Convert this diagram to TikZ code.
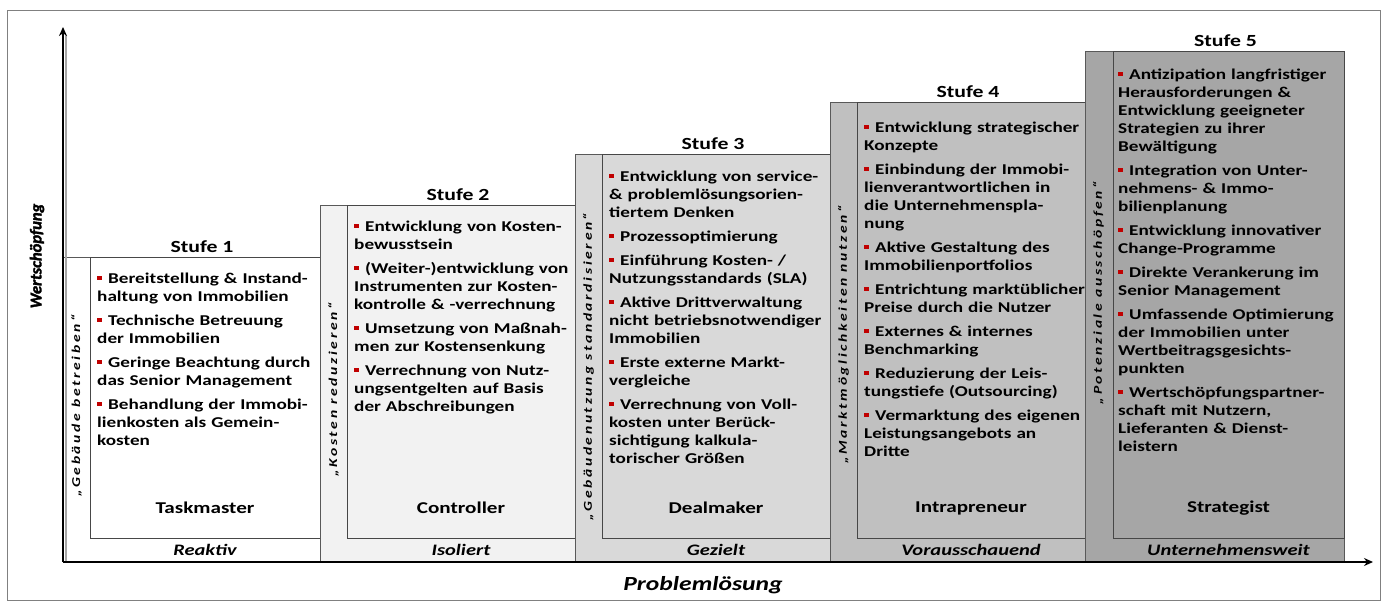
\documentclass[tikz,border=0pt]{standalone}
\usepackage{fontspec}
\setmainfont{Carlito}[FakeStretch=1.28]
\newfontfamily\plainfont{Carlito}[FakeBold=2]
\newfontfamily\quotefont{Carlito}[FakeStretch=1.3, LetterSpace=22]
\usetikzlibrary{arrows.meta,calc}
\definecolor{bred}{HTML}{C00000}
\definecolor{fillA}{HTML}{FFFFFF}
\definecolor{fillB}{HTML}{F2F2F2}
\definecolor{fillC}{HTML}{D9D9D9}
\definecolor{fillD}{HTML}{C0C0C0}
\definecolor{fillE}{HTML}{A6A6A6}
\definecolor{boxline}{HTML}{595959}
\newcommand\itm[1]{\par\noindent\hangindent=11pt\hangafter=1\makebox[11pt][l]{\raisebox{3pt}{\textcolor{bred}{\rule{5pt}{4pt}}}}#1\par\vspace{6pt}}
\newcommand\StageBox[6]{%
 \pgfmathsetmacro\ow{#3-#2}\pgfmathsetmacro\oh{562-#4}%
 \pgfmathsetmacro\iw{#3-#5}\pgfmathsetmacro\ih{538-#4}%
 \node[outerbox, fill=#6, minimum width=\ow pt, minimum height=\oh pt, anchor=north west] (o#1) at (#2,#4) {};
 \node[innerbox, minimum width=\iw pt, minimum height=\ih pt, anchor=north west] (i#1) at (#5,#4) {};
}
\tikzset{
 outerbox/.style={draw=boxline, line width=0.8pt, inner sep=0pt, outer sep=0pt},
 innerbox/.style={draw=boxline!80!black, line width=1pt, inner sep=0pt, outer sep=0pt},
 blist/.style={text width=245pt, align=left, inner sep=0pt, anchor=north west,
   font=\bfseries\fontsize{15}{18}\selectfont},
 ttl/.style={anchor=south, inner sep=0pt, font=\bfseries\fontsize{17}{20}\selectfont},
 role/.style={inner sep=0pt, font=\bfseries\fontsize{16.5}{19}\selectfont},
 btm/.style={inner sep=0pt, font=\bfseries\itshape\fontsize{16}{18}\selectfont},
 quote/.style={rotate=90, inner sep=0pt, font=\quotefont\bfseries\itshape\fontsize{12}{14}\selectfont},
 axlabel/.style={inner sep=0pt, font=\bfseries\itshape\fontsize{20}{22}\selectfont},
 ylabel/.style={rotate=90, inner sep=0pt, font=\plainfont\bfseries\itshape\fontsize{16.5}{19}\selectfont},
 axis/.style={line width=2.6pt, -{Stealth[length=9pt,width=8pt]}},
 axshadow/.style={line width=2pt, black!35},
}
\begin{document}
\begin{tikzpicture}[x=1pt,y=-1pt]
\useasboundingbox (0,0) rectangle (1386,608);
\node[draw=black!50, line width=0.8pt, minimum width=1373pt, minimum height=590pt, anchor=north west, inner sep=0pt] (frame) at (7,10) {};

\StageBox{1}{63}{320}{257}{90}{fillA}
\StageBox{2}{320}{575}{205}{347}{fillB}
\StageBox{3}{575}{830}{154}{602}{fillC}
\StageBox{4}{830}{1085}{102}{857}{fillD}
\StageBox{5}{1085}{1344}{51}{1113}{fillE}

% titles
\foreach \k/\t in {1/Stufe 1,2/Stufe 2,3/Stufe 3,4/Stufe 4,5/Stufe 5}
  \node[ttl] (t\k) at ($(i\k.north)+(-3,-4)$) {\t};

% roles and bottom labels
\foreach \k/\r/\b in {1/Taskmaster/Reaktiv,2/Controller/Isoliert,3/Dealmaker/Gezielt,4/Intrapreneur/Vorausschauend,5/Strategist/Unternehmensweit}{
  \node[role] (r\k) at ($(i\k.south)+(0,-30)$) {\r};
  \node[btm] (b\k) at ($(i\k.south)+(0,12)$) {\b};
}

% quote labels
\node[quote] (q1) at (76.5,406) {„Gebäude betreiben“};
\node[quote] (q2) at (333.5,390) {„Kosten reduzieren“};
\node[quote] (q3) at (588.5,367) {„Gebäudenutzung standardisieren“};
\node[quote] (q4) at (843.5,335) {„Marktmöglichkeiten nutzen“};
\node[quote] (q5) at (1098.5,293) {„Potenziale ausschöpfen“};

% bullet lists
\node[blist] (l1) at ($(i1.north west)+(7,8)$) {%
\itm{Bereitstellung \& Instand-\\haltung von Immobilien}
\itm{Technische Betreuung\\der Immobilien}
\itm{Geringe Beachtung durch\\das Senior Management}
\itm{Behandlung der Immobi-\\lienkosten als Gemein-\\kosten}};
\node[blist] (l2) at ($(i2.north west)+(7,8)$) {%
\itm{Entwicklung von Kosten-\\bewusstsein}
\itm{(Weiter-)entwicklung von\\Instrumenten zur Kosten-\\kontrolle \& -verrechnung}
\itm{Umsetzung von Maßnah-\\men zur Kostensenkung}
\itm{Verrechnung von Nutz-\\ungsentgelten auf Basis\\der Abschreibungen}};
\node[blist] (l3) at ($(i3.north west)+(7,9)$) {%
\itm{Entwicklung von service-\\\& problemlösungsorien-\\tiertem Denken}
\itm{Prozessoptimierung}
\itm{Einführung Kosten- /\\Nutzungsstandards (SLA)}
\itm{Aktive Drittverwaltung\\nicht betriebsnotwendiger\\Immobilien}
\itm{Erste externe Markt-\\vergleiche}
\itm{Verrechnung von Voll-\\kosten unter Berück-\\sichtigung kalkula-\\torischer Größen}};
\node[blist] (l4) at ($(i4.north west)+(7,12)$) {%
\itm{Entwicklung strategischer\\Konzepte}
\itm{Einbindung der Immobi-\\lienverantwortlichen in\\die Unternehmenspla-\\nung}
\itm{Aktive Gestaltung des\\Immobilienportfolios}
\itm{Entrichtung marktüblicher\\Preise durch die Nutzer}
\itm{Externes \& internes\\Benchmarking}
\itm{Reduzierung der Leis-\\tungstiefe (Outsourcing)}
\itm{Vermarktung des eigenen\\Leistungsangebots an\\Dritte}};
\node[blist] (l5) at ($(i5.north west)+(5,10)$) {%
\itm{Antizipation langfristiger\\Herausforderungen \&\\Entwicklung geeigneter\\Strategien zu ihrer\\Bewältigung}
\itm{Integration von Unter-\\nehmens- \& Immo-\\bilienplanung}
\itm{Entwicklung innovativer\\Change-Programme}
\itm{Direkte Verankerung im\\Senior Management}
\itm{Umfassende Optimierung\\der Immobilien unter\\Wertbeitragsgesichts-\\punkten}
\itm{Wertschöpfungspartner-\\schaft mit Nutzern,\\Lieferanten \& Dienst-\\leistern}};

% axes
\coordinate (O) at (63,562);
\coordinate (ytop) at (63,27);
\coordinate (xend) at (1373,562);
\draw[axshadow] ($(O)+(2.5,0)$) -- ($(ytop)+(2.5,8)$);
\draw[axis] (O) -- (ytop);
\draw[axis] (O) -- (xend);

\node[ylabel] (ylab) at (37,256) {Wertschöpfung};
\node[axlabel] (xlab) at (703,585) {Problemlösung};
\end{tikzpicture}
\end{document}
